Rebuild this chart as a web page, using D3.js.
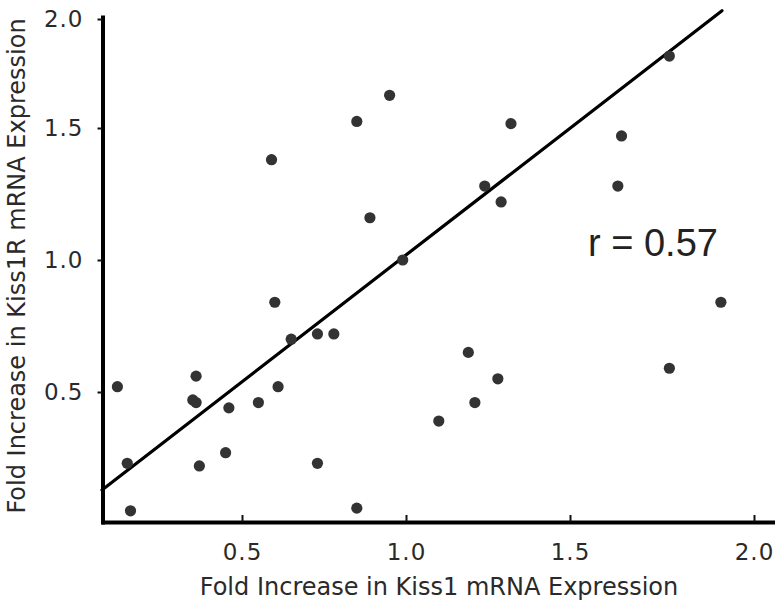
<!DOCTYPE html>
<html>
<head>
<meta charset="utf-8">
<script src="https://cdn.jsdelivr.net/npm/d3@7"></script>
<style>
  html, body { margin: 0; padding: 0; background: #fff; }
  svg { display: block; }
</style>
</head>
<body>
<svg id="chart" width="775" height="604"></svg>
<script>
// Fold increase in Kiss1 (x) and Kiss1R (y) mRNA expression, one entry per sample
const kiss1 = [0.12, 0.15, 0.16, 0.35, 0.36, 0.36, 0.37, 0.45, 0.46, 0.55,
               0.59, 0.60, 0.61, 0.65, 0.73, 0.78, 0.73, 0.85, 0.85, 0.89,
               0.95, 0.99, 1.10, 1.19, 1.21, 1.24, 1.28, 1.29, 1.32, 1.63,
               1.64, 1.77, 1.77, 1.91];
const kiss1r = [0.52, 0.23, 0.05, 0.47, 0.46, 0.56, 0.22, 0.27, 0.44, 0.46,
                1.38, 0.84, 0.52, 0.70, 0.72, 0.72, 0.23, 1.53, 0.06, 1.16,
                1.65, 1.00, 0.39, 0.65, 0.46, 1.28, 0.55, 1.22, 1.52, 1.28,
                1.47, 1.83, 0.59, 0.84];

// Least-squares fit line endpoints
const fitX = [0.073, 1.913];
const fitY = [0.129, 2.037];
const rLabel = "r = 0.57";

const xTicks = [0.5, 1.0, 1.5, 2.0];
const yTicks = [0.5, 1.0, 1.5, 2.0];
const xTitle = "Fold Increase in Kiss1 mRNA Expression";
const yTitle = "Fold Increase in Kiss1R mRNA Expression";

const svg = d3.select("#chart");
const ink = "#2a2a2a";
const tickFont = "'DejaVu Sans', Verdana, sans-serif";

// Axis scales (the printed axis is stretched unevenly, so piecewise-linear)
const x = d3.scaleLinear()
  .domain([0.07, 0.5, 1.5, 2.0, 2.057])
  .range([101, 242, 570, 754, 775]);
const y = d3.scaleLinear()
  .domain([0, 0.5, 1.5, 2.0, 2.018])
  .range([524, 392, 128, 19, 15]);

// X axis: ticks point inward
const xAxis = svg.append("g")
  .attr("transform", "translate(0,522)")
  .call(d3.axisBottom(x).tickValues(xTicks).tickFormat(d3.format(".1f"))
        .tickSizeInner(-7).tickSizeOuter(0).tickPadding(22));
xAxis.select(".domain").attr("stroke", "#000").attr("stroke-width", 4);
xAxis.selectAll(".tick line").attr("stroke", "#111").attr("stroke-width", 2);
xAxis.selectAll(".tick text")
  .attr("fill", ink).attr("font-family", tickFont).attr("font-size", 23)
  .attr("letter-spacing", 1);

// Y axis: ticks point outward
const yAxis = svg.append("g")
  .attr("transform", "translate(102.5,0)")
  .call(d3.axisLeft(y).tickValues(yTicks).tickFormat(d3.format(".1f"))
        .tickSizeInner(5).tickSizeOuter(0).tickPadding(14));
yAxis.select(".domain").attr("stroke", "#000").attr("stroke-width", 4);
yAxis.selectAll(".tick line").attr("stroke", "#111").attr("stroke-width", 2);
yAxis.selectAll(".tick text")
  .attr("fill", ink).attr("font-family", tickFont).attr("font-size", 23)
  .attr("letter-spacing", 1);

// Fit line
svg.append("path")
  .datum(d3.zip(fitX, fitY))
  .attr("d", d3.line().x(d => x(d[0])).y(d => y(d[1])))
  .attr("fill", "none")
  .attr("stroke", "#000")
  .attr("stroke-width", 3.2)
  .attr("stroke-linecap", "round");

// Sample points
svg.append("g")
  .selectAll("circle")
  .data(d3.zip(kiss1, kiss1r))
  .join("circle")
  .attr("cx", d => x(d[0]))
  .attr("cy", d => y(d[1]))
  .attr("r", 5.6)
  .attr("fill", "#333");

// Correlation coefficient
svg.append("text")
  .attr("x", 588)
  .attr("y", 256)
  .attr("fill", "#222")
  .attr("font-family", "'Liberation Sans', Arial, sans-serif")
  .attr("font-size", 38)
  .text(rLabel);

// Axis titles
svg.append("text")
  .attr("x", 439)
  .attr("y", 595)
  .attr("text-anchor", "middle")
  .attr("fill", ink)
  .attr("font-family", tickFont)
  .attr("font-size", 24)
  .text(xTitle);

svg.append("text")
  .attr("transform", "translate(25,266) rotate(-90)")
  .attr("text-anchor", "middle")
  .attr("fill", ink)
  .attr("font-family", tickFont)
  .attr("font-size", 24)
  .text(yTitle);
</script>
</body>
</html>
